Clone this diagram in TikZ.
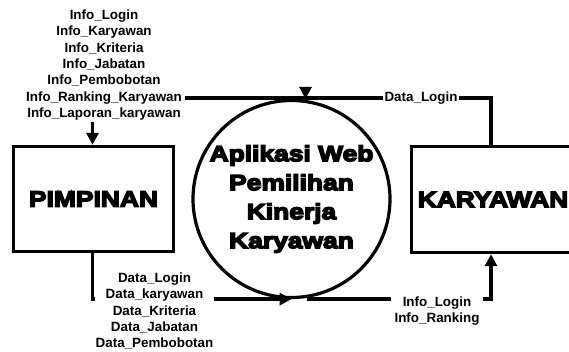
\documentclass[tikz,border=0pt]{standalone}
\usepackage{fontspec}
\setmainfont{Liberation Sans}
\newfontfamily\heavy{Liberation Sans}[BoldFeatures={FakeBold=6.5,FakeStretch=1.2}]
\usetikzlibrary{arrows.meta,calc}
\tikzset{
  ent/.style={draw,line width=3.4pt,rectangle,minimum width=160pt,minimum height=105pt,inner sep=0pt,
    font=\heavy\bfseries\fontsize{22}{29}\selectfont},
  proc/.style={draw,line width=3.2pt,circle,minimum size=197pt,inner sep=0pt,align=center,
    font=\heavy\bfseries\fontsize{22}{29}\selectfont},
  lbl/.style={align=center,fill=white,inner sep=2pt,font=\bfseries\fontsize{13.4}{16.3}\selectfont},
  flow/.style={line width=3.3pt},
  tip/.style={-{Triangle[length=12pt,width=12pt]}}
}
\begin{document}
\begin{tikzpicture}[x=1pt,y=-1pt]
\useasboundingbox (0,0) rectangle (569,351);
\node[ent] (pim) at (93.5,199) {PIMPINAN};
\node[ent,minimum width=172pt,minimum height=106pt] (kar) at (497.5,199.5) {\hspace*{-9pt}KARYAWAN};
\node[proc] (circ) at (291.5,199) {Aplikasi Web\\Pemilihan\\Kinerja\\Karyawan};
\node[lbl] (infotop) at (104,65) {Info\_Login\\Info\_Karyawan\\Info\_Kriteria\\Info\_Jabatan\\Info\_Pembobotan\\Info\_Ranking\_Karyawan\\Info\_Laporan\_karyawan};
\coordinate (tl) at (185,98);
% flows
\draw[flow] ([xshift=-6.5pt]kar.north) |- (tl);
\draw[flow,tip] ([xshift=14pt,yshift=12pt]circ.north) -- ([xshift=14pt]circ.north);
\draw[flow,tip] ([xshift=-1pt]pim.north |- infotop.south) -- ([xshift=-1pt]pim.north);
\draw[flow,tip] ([xshift=-1pt]pim.south) |- (circ.south);
\draw[flow,tip] ([xshift=15pt]circ.south) -| ([xshift=-6.5pt]kar.south);
% labels on flows
\node[lbl,inner sep=1.5pt] (dl) at (421,98) {Data\_Login};
\node[lbl,inner sep=0.6pt] (datab) at (154.5,311) {Data\_Login\\Data\_karyawan\\Data\_Kriteria\\Data\_Jabatan\\Data\_Pembobotan};
\node[lbl,inner sep=4pt] (infob) at (437,311) {Info\_Login\\Info\_Ranking};
\end{tikzpicture}
\end{document}
